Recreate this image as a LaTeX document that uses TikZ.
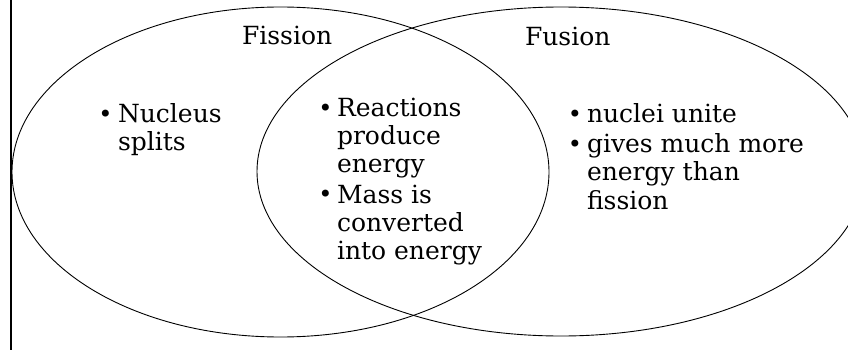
\documentclass[tikz,border=0pt]{standalone}
\usepackage{fontspec}
\setmainfont{DejaVu Serif}
\newcommand{\itemlines}[1]{\begin{tabular}[t]{@{}l@{}}#1\end{tabular}}
\begin{document}
\begin{tikzpicture}[x=1pt,y=-1pt,
  ring/.style={draw=black, line width=0.9pt},
  edge/.style={draw=black, line width=2pt},
  lbl/.style={anchor=base west, inner sep=0pt, outer sep=0pt, font=\fontsize{25}{28}\selectfont},
  item/.style={anchor=base west, inner sep=0pt, outer sep=0pt, font=\fontsize{25}{28}\selectfont},
  bul/.style={anchor=center, inner sep=0pt, outer sep=0pt, font=\fontsize{24}{24}\selectfont}]
\useasboundingbox (0,0) rectangle (848,350);
\begin{scope}
  \clip (0,0) rectangle (848,350);
  \draw[ring] (280.5,172) ellipse [x radius=268.5pt, y radius=165pt];
  \draw[ring] (561,171.5) ellipse [x radius=304pt, y radius=164.5pt];
  \draw[edge] (11.3,0) -- (11.3,350);
\end{scope}
% set labels
\node[lbl] (fission) at (242,45) {Fission};
\node[lbl] (fusion) at (525,46) {Fusion};
% left
\node[bul] (b1) at (105.5,116.5) {•};
\node[item] (t1) at (118,123) {\itemlines{Nucleus\\splits}};
% middle
\node[bul] (b2) at (325.5,110.5) {•};
\node[item] (t2) at (337,117) {\itemlines{Reactions\\produce\\energy}};
\node[bul] (b3) at (325.5,196.5) {•};
\node[item] (t3) at (337,203) {\itemlines{Mass is\\converted\\into energy}};
% right
\node[bul] (b4) at (575,116.5) {•};
\node[item] (t4) at (587,123) {\itemlines{nuclei unite}};
\node[bul] (b5) at (575,146.5) {•};
\node[item] (t5) at (587,153) {\itemlines{gives much more\\energy than\\fission}};
\end{tikzpicture}
\end{document}
